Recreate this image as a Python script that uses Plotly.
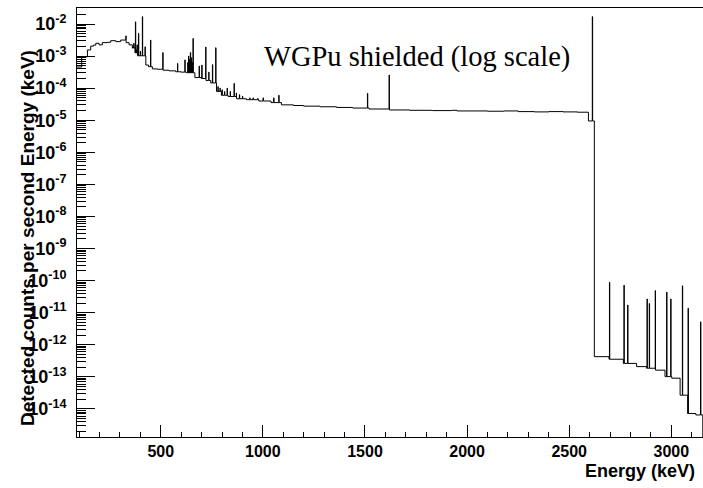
import plotly.graph_objects as go

# ---------------- data ----------------
# continuum step edges (keV) and level (counts/s/keV) from each edge onward
cont_energy = [90, 113, 141, 157, 170, 182, 198, 214, 239, 255, 280, 304, 329, 345,
               361, 374, 386, 427, 440, 459, 484, 510, 540, 573, 600, 626, 667, 700,
               720, 745, 773, 797, 830, 871, 920, 980, 1040, 1091, 1150, 1200, 1280,
               1360, 1440, 1520, 1620, 1720, 1830, 1924, 1950, 2100, 2180, 2250, 2330,
               2400, 2470, 2540, 2594, 2623, 2695, 2765, 2830, 2879, 2921, 2969, 3002,
               3043, 3080, 3120, 3154]
cont_value = [4.57e-4, 9.5e-4, 1.55e-3, 2.04e-3, 2.19e-3, 2.51e-3, 2.24e-3, 2.63e-3,
              2.69e-3, 3.02e-3, 2.82e-3, 3.16e-3, 2.63e-3, 2.24e-3,
              1.78e-3, 1.26e-3, 1.02e-3, 5.25e-4, 4.68e-4, 3.98e-4, 3.89e-4, 3.63e-4,
              3.47e-4, 3.24e-4, 3.16e-4, 3.02e-4, 2.14e-4, 2.0e-4,
              1.74e-4, 1.45e-4, 7.9e-5, 6.0e-5, 5.5e-5, 4.68e-5, 4.37e-5, 3.98e-5,
              3.55e-5, 3.02e-5, 2.88e-5, 2.75e-5, 2.63e-5,
              2.51e-5, 2.40e-5, 2.24e-5, 2.09e-5, 2.04e-5, 2.0e-5, 2.04e-5, 1.95e-5,
              1.91e-5, 1.95e-5, 1.86e-5, 1.82e-5,
              1.86e-5, 1.82e-5, 1.78e-5, 9.5e-6, 4.27e-13, 3.55e-13, 2.63e-13, 2.09e-13,
              1.86e-13, 1.62e-13, 1.02e-13, 9.1e-14,
              2.69e-14, 7.2e-15, 6.5e-15, 3e-16]
spectrum_end = 3170

# gamma lines (keV) and their peak heights
peak_energy = [329, 365, 368, 372, 376, 380, 384, 391, 400, 410, 423, 450, 510,
               582, 618, 632, 636, 640, 645, 650, 654, 658, 688, 701, 720, 735, 753, 769,
               780, 790, 800, 812, 825, 840, 859, 870, 885, 900, 936, 952, 975, 1001,
               1053, 1078, 1512, 1618, 2613,
               2697, 2768, 2786, 2881, 2892, 2921, 2977, 2997, 3054, 3082, 3143]
peak_value = [4.27e-3, 2.0e-3, 2.51e-3, 1.78e-3, 1.17e-2, 1.58e-3, 2.24e-3, 5.13e-3,
              1.41e-3, 1.70e-2, 1.95e-3, 3.16e-3, 1.29e-3,
              5.9e-4, 7.6e-4, 6.3e-4, 1.0e-3, 7.9e-4, 1.29e-3, 8.9e-4, 6.3e-4, 3.55e-3,
              4.9e-4, 5.25e-4, 1.91e-3, 3.16e-4, 5.4e-4, 1.82e-3,
              1.12e-4, 1.0e-4, 8.9e-5, 7.9e-5, 1.0e-4, 7.9e-5, 1.41e-4, 7.1e-5, 6.3e-5,
              5.6e-5, 5.0e-5, 5.0e-5, 4.8e-5, 5.0e-5,
              5.0e-5, 6.0e-5, 6.9e-5, 2.57e-4, 1.70e-2,
              8.9e-11, 7.2e-11, 1.74e-11, 2.69e-11, 1.95e-11, 4.9e-11, 4.4e-11, 2.69e-11,
              6.9e-11, 1.38e-11, 5.2e-12]
peak_width = 1.5  # keV, one narrow bin per line

x_range = [90, 3155]
x_tick_values = [500, 1000, 1500, 2000, 2500, 3000]
x_minor_step = 100
y_tick_exponents = list(range(-14, -1))

title_text = "WGPu shielded (log scale)"
x_title = "Energy (keV)"
y_title = "Detected counts per second Energy (keV)"

# ---------------- build the histogram outline ----------------
def baseline(e):
    v = cont_value[0]
    for ce, cv in zip(cont_energy, cont_value):
        if ce <= e:
            v = cv
        else:
            break
    return v

peak_map = dict(zip(peak_energy, peak_value))
edges = set(cont_energy)
for pe in peak_energy:
    edges.add(pe)
    edges.add(pe + peak_width)
edges = sorted(edges)
xs, ys = [], []
for e in edges:
    xs.append(e)
    ys.append(peak_map[e] if e in peak_map else baseline(e))
xs.append(spectrum_end)
ys.append(ys[-1])

fig = go.Figure()
fig.add_trace(go.Scatter(x=xs, y=ys, mode="lines", line_shape="hv",
                         line=dict(color="black", width=1), showlegend=False,
                         hoverinfo="skip"))

# ---------------- layout ----------------
W, H = 703, 488
ml, mr, mt, mb = 77, 0, 8, 51
pw, ph = W - ml - mr, H - mt - mb

def px(xp):
    return (xp - ml) / pw

def py(yp):
    return (H - mb - yp) / ph

minor_vals = [k * 10.0 ** n for n in range(-16, 0) for k in range(2, 10)]

fig.update_layout(
    width=W, height=H,
    margin=dict(l=ml, r=mr, t=mt, b=mb, pad=0),
    paper_bgcolor="white", plot_bgcolor="white",
    font=dict(family="Liberation Sans", color="black"),
    xaxis=dict(
        range=x_range, showgrid=False, zeroline=False,
        showline=True, linecolor="black", linewidth=1, mirror=True,
        ticks="inside", ticklen=12, tickwidth=1, tickcolor="black",
        tickmode="array", tickvals=x_tick_values,
        ticktext=["<b>%d</b>" % v for v in x_tick_values],
        tickfont=dict(family="Liberation Sans", size=16, color="black"),
        minor=dict(ticks="inside", ticklen=5, tickwidth=1, tickcolor="black",
                   tick0=0, dtick=x_minor_step, showgrid=False),
    ),
    yaxis=dict(
        type="log", range=[-14.874, -1.501], showgrid=False, zeroline=False,
        showline=True, linecolor="black", linewidth=1, mirror=False,
        ticks="inside", ticklen=18, tickwidth=1, tickcolor="black",
        tickmode="array",
        tickvals=[10.0 ** e for e in y_tick_exponents],
        ticktext=["<b>10<sup>%d</sup></b>" % e for e in y_tick_exponents],
        tickfont=dict(family="Liberation Sans", size=18, color="black"),
        ticklabelstandoff=6,
        minor=dict(ticks="inside", ticklen=9, tickwidth=1, tickcolor="black",
                   tickmode="array", tickvals=minor_vals, showgrid=False),
    ),
    annotations=[
        dict(text=title_text, xref="paper", yref="paper", x=px(417), y=py(57),
             xanchor="center", yanchor="middle", showarrow=False,
             font=dict(family="Liberation Serif", size=28.5, color="black")),
        dict(text="<b>%s</b>" % x_title, xref="paper", yref="paper", x=px(697), y=py(471),
             xanchor="right", yanchor="middle", showarrow=False,
             font=dict(family="Liberation Sans", size=18, color="black")),
        dict(text="<b>%s</b>" % y_title, xref="paper", yref="paper", x=px(27), y=py(238),
             xanchor="center", yanchor="middle", showarrow=False, textangle=-90,
             font=dict(family="Liberation Sans", size=19, color="black")),
    ],
)

fig.write_html("out.html")
